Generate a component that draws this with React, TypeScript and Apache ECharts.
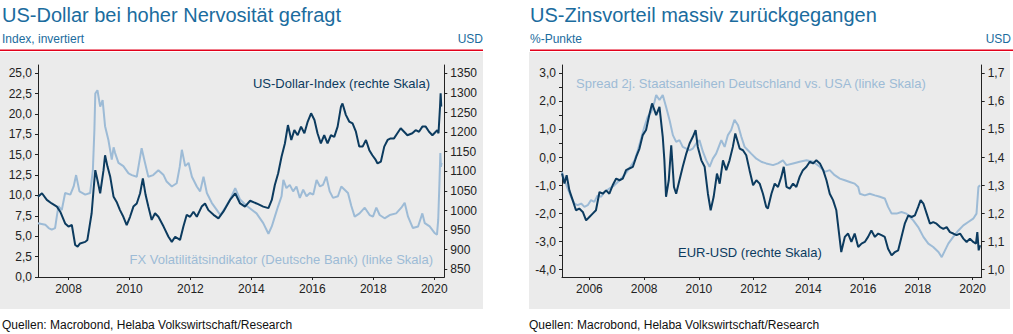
import React, { useEffect, useRef } from "react";
import * as echarts from "echarts";

// ---------- Left chart: US-Dollar-Index vs FX volatility ----------
const fxDates = [2007.0, 2007.12, 2007.24, 2007.35, 2007.45, 2007.56, 2007.62, 2007.67, 2007.78, 2007.89, 2008.06, 2008.17, 2008.25, 2008.36, 2008.55, 2008.71, 2008.8, 2008.85, 2008.88, 2008.95, 2009.04, 2009.12, 2009.2, 2009.31, 2009.42, 2009.48, 2009.53, 2009.64, 2009.8, 2009.97, 2010.08, 2010.24, 2010.4, 2010.51, 2010.62, 2010.78, 2010.95, 2011.12, 2011.22, 2011.39, 2011.55, 2011.65, 2011.72, 2011.83, 2011.94, 2012.05, 2012.21, 2012.32, 2012.43, 2012.54, 2012.7, 2012.87, 2012.98, 2013.14, 2013.3, 2013.47, 2013.63, 2013.85, 2013.96, 2014.17, 2014.39, 2014.56, 2014.67, 2014.77, 2014.88, 2014.99, 2015.05, 2015.15, 2015.26, 2015.37, 2015.48, 2015.59, 2015.7, 2015.81, 2015.92, 2016.03, 2016.14, 2016.25, 2016.35, 2016.46, 2016.57, 2016.68, 2016.84, 2016.95, 2017.06, 2017.17, 2017.28, 2017.39, 2017.55, 2017.72, 2017.88, 2017.99, 2018.1, 2018.21, 2018.37, 2018.54, 2018.75, 2018.92, 2019.03, 2019.14, 2019.3, 2019.47, 2019.61, 2019.69, 2019.85, 2020.01, 2020.09, 2020.13, 2020.17, 2020.2, 2020.22, 2020.24];
const fxValues = [6.6, 6.5, 6.4, 6.0, 5.8, 6.0, 7.5, 8.7, 8.2, 10.3, 10.1, 11.1, 12.5, 10.5, 10.1, 10.3, 13.1, 18.0, 22.5, 22.9, 20.9, 21.7, 18.5, 16.8, 14.4, 15.9, 15.2, 14.0, 13.6, 12.7, 12.5, 12.3, 15.8, 14.0, 12.3, 12.5, 13.1, 12.5, 11.7, 11.1, 11.5, 13.5, 15.6, 13.6, 14.0, 12.3, 11.1, 10.5, 12.3, 10.3, 9.1, 8.2, 7.6, 8.5, 9.5, 10.9, 9.5, 8.7, 8.4, 7.8, 6.6, 5.3, 6.2, 7.4, 8.7, 9.9, 11.9, 10.9, 11.3, 10.5, 11.1, 9.7, 10.7, 9.9, 10.3, 10.1, 11.9, 11.1, 11.3, 12.3, 10.5, 9.7, 9.9, 11.1, 10.7, 10.3, 8.7, 7.4, 7.8, 8.5, 7.6, 7.4, 8.5, 7.6, 7.2, 7.6, 7.8, 8.5, 9.1, 7.4, 6.0, 6.2, 7.8, 6.6, 6.2, 5.4, 5.2, 7.0, 11.5, 15.2, 13.5, 14.0];

const usdDates = [2007.0, 2007.13, 2007.29, 2007.45, 2007.62, 2007.73, 2007.89, 2008.0, 2008.11, 2008.22, 2008.3, 2008.38, 2008.55, 2008.62, 2008.69, 2008.76, 2008.83, 2008.88, 2008.95, 2009.04, 2009.15, 2009.2, 2009.28, 2009.37, 2009.48, 2009.58, 2009.69, 2009.8, 2009.91, 2010.02, 2010.13, 2010.24, 2010.35, 2010.44, 2010.53, 2010.62, 2010.73, 2010.84, 2010.95, 2011.12, 2011.28, 2011.39, 2011.5, 2011.66, 2011.77, 2011.88, 2011.99, 2012.1, 2012.21, 2012.37, 2012.48, 2012.59, 2012.76, 2012.92, 2013.08, 2013.3, 2013.47, 2013.63, 2013.79, 2013.96, 2014.17, 2014.39, 2014.56, 2014.67, 2014.77, 2014.88, 2014.99, 2015.1, 2015.2, 2015.31, 2015.41, 2015.52, 2015.63, 2015.74, 2015.85, 2015.96, 2016.07, 2016.17, 2016.28, 2016.39, 2016.5, 2016.61, 2016.72, 2016.83, 2016.94, 2016.99, 2017.1, 2017.21, 2017.32, 2017.43, 2017.54, 2017.65, 2017.76, 2017.87, 2017.97, 2018.08, 2018.14, 2018.25, 2018.36, 2018.47, 2018.57, 2018.68, 2018.79, 2018.9, 2019.01, 2019.12, 2019.28, 2019.39, 2019.5, 2019.61, 2019.72, 2019.83, 2019.94, 2020.05, 2020.1, 2020.14, 2020.19, 2020.21, 2020.23];
const usdValues = [1035, 1044, 1027, 1018, 1010, 997, 967, 959, 963, 912, 908, 916, 920, 925, 959, 993, 1060, 1103, 1078, 1044, 1103, 1141, 1112, 1086, 1035, 1022, 1001, 984, 963, 984, 1010, 1018, 1044, 1082, 1040, 1010, 976, 993, 984, 959, 933, 920, 933, 925, 959, 989, 984, 997, 984, 1010, 1018, 1001, 989, 980, 997, 1027, 1044, 1018, 1010, 1025, 1018, 1010, 1006, 1027, 1065, 1095, 1137, 1171, 1218, 1180, 1205, 1192, 1214, 1197, 1227, 1248, 1231, 1197, 1171, 1192, 1171, 1192, 1188, 1214, 1265, 1273, 1244, 1227, 1222, 1201, 1163, 1163, 1180, 1154, 1141, 1129, 1120, 1125, 1163, 1180, 1184, 1184, 1197, 1210, 1201, 1192, 1197, 1205, 1201, 1214, 1214, 1201, 1192, 1201, 1205, 1197, 1265, 1299, 1265];

// ---------- Right chart: Spread vs EUR-USD ----------
const spreadDates = [2005.0, 2005.09, 2005.21, 2005.33, 2005.45, 2005.57, 2005.7, 2005.82, 2005.94, 2006.06, 2006.18, 2006.3, 2006.43, 2006.55, 2006.73, 2006.91, 2007.1, 2007.28, 2007.46, 2007.65, 2007.77, 2007.89, 2008.01, 2008.13, 2008.26, 2008.38, 2008.44, 2008.56, 2008.68, 2008.8, 2008.93, 2009.05, 2009.17, 2009.29, 2009.41, 2009.54, 2009.66, 2009.78, 2009.9, 2010.02, 2010.15, 2010.27, 2010.39, 2010.51, 2010.63, 2010.82, 2010.94, 2011.06, 2011.18, 2011.3, 2011.43, 2011.55, 2011.67, 2011.79, 2011.91, 2012.1, 2012.28, 2012.46, 2012.71, 2012.89, 2013.07, 2013.2, 2013.44, 2013.68, 2013.93, 2014.17, 2014.42, 2014.6, 2014.78, 2014.96, 2015.15, 2015.33, 2015.51, 2015.69, 2015.82, 2015.88, 2016.06, 2016.24, 2016.43, 2016.61, 2016.79, 2016.91, 2017.04, 2017.22, 2017.4, 2017.58, 2017.71, 2017.83, 2018.01, 2018.2, 2018.38, 2018.56, 2018.75, 2018.87, 2018.99, 2019.11, 2019.29, 2019.48, 2019.66, 2019.84, 2020.02, 2020.14, 2020.21, 2020.27];
const spreadValues = [-0.51, -0.81, -1.11, -1.4, -1.64, -1.7, -1.64, -1.76, -1.7, -1.52, -1.58, -1.35, -1.4, -1.23, -1.11, -0.99, -0.81, -0.63, -0.39, -0.1, 0.26, 0.68, 1.1, 1.45, 1.63, 1.99, 2.23, 2.05, 2.23, 1.81, 1.33, 0.8, 0.56, 0.62, 0.38, 0.32, 0.26, 0.32, 0.5, 0.62, 0.2, -0.1, -0.33, -0.04, 0.14, 0.62, 0.38, 0.8, 0.98, 1.35, 1.15, 0.74, 0.38, 0.26, 0.14, -0.04, -0.15, -0.21, -0.27, -0.21, -0.1, -0.27, -0.21, -0.15, -0.1, -0.15, -0.33, -0.51, -0.45, -0.63, -0.75, -0.81, -0.87, -0.93, -1.05, -1.29, -1.35, -1.29, -1.35, -1.4, -1.46, -1.76, -2.0, -2.0, -1.94, -2.0, -2.12, -2.24, -2.48, -2.83, -3.07, -3.19, -3.37, -3.55, -3.31, -3.07, -2.83, -2.6, -2.42, -2.3, -2.18, -2.0, -1.05, -0.99];

const eurDates = [2005.0, 2005.09, 2005.17, 2005.27, 2005.39, 2005.51, 2005.63, 2005.76, 2005.88, 2006.0, 2006.12, 2006.24, 2006.37, 2006.49, 2006.61, 2006.73, 2006.85, 2006.98, 2007.1, 2007.22, 2007.34, 2007.46, 2007.59, 2007.71, 2007.83, 2007.95, 2008.07, 2008.2, 2008.29, 2008.44, 2008.56, 2008.68, 2008.74, 2008.8, 2008.9, 2008.99, 2009.09, 2009.17, 2009.29, 2009.41, 2009.54, 2009.66, 2009.78, 2009.88, 2009.96, 2010.09, 2010.21, 2010.33, 2010.43, 2010.54, 2010.66, 2010.76, 2010.88, 2011.0, 2011.12, 2011.24, 2011.33, 2011.49, 2011.61, 2011.73, 2011.85, 2011.98, 2012.1, 2012.22, 2012.34, 2012.46, 2012.52, 2012.65, 2012.77, 2012.89, 2013.01, 2013.1, 2013.2, 2013.32, 2013.44, 2013.56, 2013.68, 2013.8, 2013.93, 2014.05, 2014.17, 2014.29, 2014.42, 2014.54, 2014.66, 2014.78, 2014.9, 2015.02, 2015.12, 2015.2, 2015.33, 2015.45, 2015.57, 2015.69, 2015.82, 2015.94, 2016.06, 2016.18, 2016.3, 2016.43, 2016.55, 2016.67, 2016.79, 2016.91, 2017.04, 2017.16, 2017.28, 2017.4, 2017.52, 2017.65, 2017.77, 2017.89, 2018.01, 2018.1, 2018.2, 2018.32, 2018.44, 2018.56, 2018.68, 2018.81, 2018.93, 2019.05, 2019.17, 2019.29, 2019.41, 2019.54, 2019.66, 2019.78, 2019.9, 2020.02, 2020.12, 2020.17, 2020.22, 2020.27];
const eurValues = [1.343, 1.307, 1.337, 1.283, 1.248, 1.212, 1.218, 1.206, 1.176, 1.188, 1.2, 1.212, 1.277, 1.271, 1.283, 1.271, 1.301, 1.325, 1.319, 1.325, 1.355, 1.361, 1.367, 1.402, 1.432, 1.48, 1.498, 1.557, 1.593, 1.551, 1.581, 1.474, 1.39, 1.26, 1.319, 1.444, 1.295, 1.271, 1.319, 1.367, 1.414, 1.45, 1.474, 1.498, 1.438, 1.39, 1.367, 1.271, 1.212, 1.26, 1.343, 1.307, 1.39, 1.355, 1.39, 1.438, 1.486, 1.432, 1.426, 1.408, 1.355, 1.301, 1.319, 1.307, 1.271, 1.224, 1.218, 1.271, 1.307, 1.295, 1.331, 1.367, 1.295, 1.289, 1.307, 1.295, 1.331, 1.355, 1.367, 1.385, 1.379, 1.39, 1.379, 1.355, 1.319, 1.271, 1.248, 1.212, 1.129, 1.063, 1.117, 1.129, 1.099, 1.129, 1.081, 1.093, 1.099, 1.117, 1.14, 1.117, 1.129, 1.123, 1.117, 1.075, 1.051, 1.063, 1.069, 1.117, 1.164, 1.194, 1.188, 1.194, 1.224, 1.248, 1.236, 1.2, 1.164, 1.17, 1.164, 1.152, 1.146, 1.152, 1.134, 1.129, 1.123, 1.129, 1.111, 1.099, 1.111, 1.099, 1.093, 1.134, 1.069, 1.087];

// ---------- Tick labels ----------
const leftYearTicks = [2008, 2010, 2012, 2014, 2016, 2018, 2020];
const rightYearTicks = [2006, 2008, 2010, 2012, 2014, 2016, 2018, 2020];
const fxTicks = [0, 2.5, 5, 7.5, 10, 12.5, 15, 17.5, 20, 22.5, 25];
const usdTicks = [850, 900, 950, 1000, 1050, 1100, 1150, 1200, 1250, 1300, 1350];
const spreadLabelTicks = [-4, -3, -2, -1, 0, 1, 2, 3];
const spreadMinorTicks = [-4, -3.5, -3, -2.5, -2, -1.5, -1, -0.5, 0, 0.5, 1, 1.5, 2, 2.5, 3];
const eurTicks = [1.0, 1.1, 1.2, 1.3, 1.4, 1.5, 1.6, 1.7];

const NAVY = "#0c3b5f";
const LIGHT = "#9dbbd6";
const TITLE = "#1b6c9e";
const FONT = "'Liberation Sans', Arial, sans-serif";
const AXIS = "#222";

const zip = (a: number[], b: number[]) => a.map((d, i) => [d, b[i]]);
const comma1 = (v: number) => v.toFixed(1).replace(".", ",");

function yAxisBase(extra: any) {
  return {
    type: "value",
    splitLine: { show: false },
    axisLine: { show: true, lineStyle: { color: AXIS, width: 1 } },
    axisTick: { show: true, length: 3, lineStyle: { color: AXIS } },
    axisLabel: { color: AXIS, fontSize: 12, fontFamily: FONT, margin: 6 },
    ...extra,
  };
}

export default function App() {
  const ref = useRef<HTMLDivElement>(null);
  useEffect(() => {
    if (!ref.current) return;
    const chart = echarts.init(ref.current, undefined, { renderer: "svg" });
    const xAxisBase = (gridIndex: number, min: number, max: number, ticks: number[]) => ({
      type: "value",
      gridIndex,
      min,
      max,
      splitLine: { show: false },
      axisLine: { show: true, onZero: false, lineStyle: { color: AXIS, width: 1 } },
      axisTick: { show: true, length: 3, customValues: ticks, lineStyle: { color: AXIS } },
      axisLabel: {
        customValues: ticks,
        color: AXIS,
        fontSize: 12,
        fontFamily: FONT,
        margin: 6,
        formatter: (v: number) => String(Math.round(v)),
      },
    });

    const txt = (x: number, y: number, text: string, size: number, color: string, align = "left", family = FONT) => ({
      type: "text",
      x,
      y,
      z: 100,
      style: { text, fontSize: size, fill: color, fontFamily: family, align, verticalAlign: "middle" },
    });

    chart.setOption({
      animation: false,
      backgroundColor: "#ffffff",
      textStyle: { fontFamily: FONT },
      graphic: [
        { type: "rect", z: -100, shape: { x: 0, y: 52, width: 483, height: 257 }, style: { fill: "#ebebeb" } },
        { type: "rect", z: -100, shape: { x: 529, y: 52, width: 481, height: 257 }, style: { fill: "#ebebeb" } },
        { type: "rect", z: 100, shape: { x: 0, y: 49.5, width: 483, height: 1.5 }, style: { fill: "#e2001a" } },
        { type: "rect", z: 100, shape: { x: 530, y: 49.5, width: 483, height: 1.5 }, style: { fill: "#e2001a" } },
        txt(2, 15, "US-Dollar bei hoher Nervosität gefragt", 20, TITLE),
        txt(2, 39, "Index, invertiert", 12, TITLE),
        txt(483, 39, "USD", 12, TITLE, "right"),
        txt(530, 15, "US-Zinsvorteil massiv zurückgegangen", 20, TITLE),
        txt(530, 39, "%-Punkte", 12, TITLE),
        txt(1011, 39, "USD", 12, TITLE, "right"),
        txt(430, 83, "US-Dollar-Index (rechte Skala)", 13, NAVY, "right"),
        txt(433, 259, "FX Volatilitätsindikator (Deutsche Bank) (linke Skala)", 13, LIGHT, "right"),
        txt(576, 83, "Spread 2j. Staatsanleihen Deutschland vs. USA (linke Skala)", 13, LIGHT),
        txt(678, 252, "EUR-USD (rechte Skala)", 13, NAVY),
        txt(2, 325, "Quellen: Macrobond, Helaba Volkswirtschaft/Research", 12, "#111", "left", "'Liberation Sans Narrow', 'Arial Narrow', sans-serif"),
        txt(529, 325, "Quellen: Macrobond, Helaba Volkswirtschaft/Research", 12, "#111", "left", "'Liberation Sans Narrow', 'Arial Narrow', sans-serif"),
      ],
      grid: [
        { left: 38, top: 65, width: 406.3, height: 212 },
        { left: 562, top: 65, width: 419.7, height: 212 },
      ],
      xAxis: [
        xAxisBase(0, 2007, 2020.33, leftYearTicks),
        xAxisBase(1, 2005, 2020.33, rightYearTicks),
      ],
      yAxis: [
        yAxisBase({
          gridIndex: 0,
          position: "left",
          min: 0,
          max: 26,
          axisTick: { show: true, length: 3, customValues: fxTicks, lineStyle: { color: AXIS } },
          axisLabel: { customValues: fxTicks, color: AXIS, fontSize: 12, fontFamily: FONT, margin: 6, formatter: comma1 },
        }),
        yAxisBase({
          gridIndex: 0,
          position: "right",
          min: 830.4,
          max: 1371.2,
          axisTick: { show: true, length: 3, customValues: usdTicks, lineStyle: { color: AXIS } },
          axisLabel: { customValues: usdTicks, color: AXIS, fontSize: 12, fontFamily: FONT, margin: 6, formatter: (v: number) => String(Math.round(v)) },
        }),
        yAxisBase({
          gridIndex: 1,
          position: "left",
          min: -4.26,
          max: 3.3,
          axisTick: { show: true, length: 3, customValues: spreadMinorTicks, lineStyle: { color: AXIS } },
          axisLabel: { customValues: spreadLabelTicks, color: AXIS, fontSize: 12, fontFamily: FONT, margin: 6, formatter: comma1 },
        }),
        yAxisBase({
          gridIndex: 1,
          position: "right",
          min: 0.974,
          max: 1.73,
          axisTick: { show: true, length: 3, customValues: eurTicks, lineStyle: { color: AXIS } },
          axisLabel: { customValues: eurTicks, color: AXIS, fontSize: 12, fontFamily: FONT, margin: 6, formatter: comma1 },
        }),
      ],
      series: [
        { type: "line", name: "FX Volatilitätsindikator", xAxisIndex: 0, yAxisIndex: 0, data: zip(fxDates, fxValues), showSymbol: false, lineStyle: { color: LIGHT, width: 2 }, z: 2 },
        { type: "line", name: "US-Dollar-Index", xAxisIndex: 0, yAxisIndex: 1, data: zip(usdDates, usdValues), showSymbol: false, lineStyle: { color: NAVY, width: 2 }, z: 3 },
        { type: "line", name: "Spread 2j.", xAxisIndex: 1, yAxisIndex: 2, data: zip(spreadDates, spreadValues), showSymbol: false, lineStyle: { color: LIGHT, width: 2 }, z: 2 },
        { type: "line", name: "EUR-USD", xAxisIndex: 1, yAxisIndex: 3, data: zip(eurDates, eurValues), showSymbol: false, lineStyle: { color: NAVY, width: 2 }, z: 3 },
      ],
    });
    return () => chart.dispose();
  }, []);
  return (
    <div
      ref={ref}
      style={{ position: "absolute", left: 0, top: 0, width: 1013, height: 334, background: "#fff" }}
    />
  );
}
